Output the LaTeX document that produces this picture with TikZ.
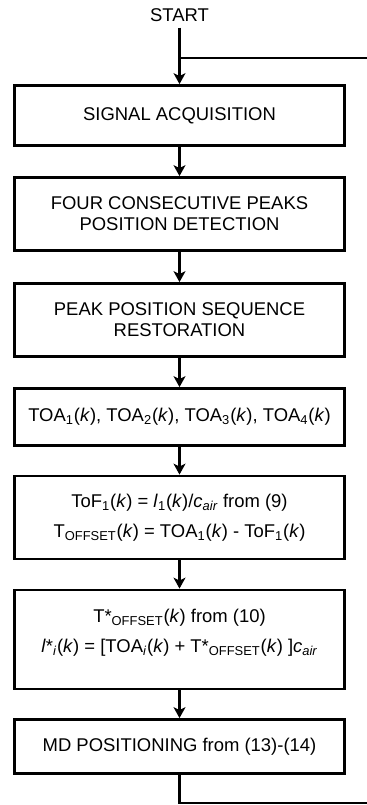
\documentclass[tikz,border=0pt]{standalone}
\usepackage{fontspec}
\setmainfont{Liberation Sans}
\usetikzlibrary{arrows.meta}
\newcommand{\lo}[1]{\textsubscript{#1}}
\begin{document}
\begin{tikzpicture}[x=0.02cm, y=-0.02cm,
    procbox/.style={draw, line width=1.6pt, minimum width=6.6cm, align=center, inner sep=0pt},
    flow/.style={line width=1.6pt, -{Stealth[length=0.22cm, width=0.24cm, inset=0.06cm]}},
    wire/.style={line width=1.6pt}]
            \useasboundingbox (0,0) rectangle (367,805);
            \tikzset{every node/.style={font=\fontsize{10.5}{12}\selectfont}}
            \node                                     (start) at (179.5,  15.0) {START};
            \node[procbox, minimum height=1.20cm]     (acq)   at (179.5, 115.5) {SIGNAL ACQUISITION};
            \node[procbox, minimum height=1.46cm]     (peaks) at (179.5, 214.0) {FOUR CONSECUTIVE PEAKS\\POSITION DETECTION};
            \node[procbox, minimum height=1.46cm]     (restore) at (179.5, 320.0) {PEAK POSITION SEQUENCE\\RESTORATION};
            \node[procbox, minimum height=1.14cm]     (toa)   at (179.5, 417.0) {TOA\lo{1}(\textit{k}), TOA\lo{2}(\textit{k}), TOA\lo{3}(\textit{k}), TOA\lo{4}(\textit{k})};
            \node[procbox, minimum height=1.66cm]     (tof)   at (179.5, 517.5)
                 {ToF\lo{1}(\textit{k}) = \textit{l}\lo{1}(\textit{k})/\textit{c\lo{air}} from (9)\\[5pt]
                  T\lo{OFFSET}(\textit{k}) = TOA\lo{1}(\textit{k}) - ToF\lo{1}(\textit{k})};
            \node[procbox, minimum height=1.98cm]     (offset) at (179.5, 639.5)
                 {T*\lo{OFFSET}(\textit{k}) from (10)\\[5pt]
                  \textit{l}*\lo{\textit{i}}(\textit{k}) = [TOA\lo{\textit{i}}(\textit{k}) + T*\lo{OFFSET}(\textit{k}) ]\textit{c\lo{air}}\\[-6pt]\strut};
            \node[procbox, minimum height=1.08cm]     (md)    at (179.5, 746.5) {MD POSITIONING from (13)-(14)};
            % feedback loop ends
            \coordinate (join)       at (179.5,  58.0);
            \coordinate (loopin)     at (367.0,  58.0);
            \coordinate (loopcorner) at (179.5, 803.0);
            \coordinate (loopout)    at (367.0, 803.0);
            \draw[flow] (start)   -- (acq);
            \draw[wire] (loopin)  -- (join);
            \draw[flow] (acq)     -- (peaks);
            \draw[flow] (peaks)   -- (restore);
            \draw[flow] (restore) -- (toa);
            \draw[flow] (toa)     -- (tof);
            \draw[flow] (tof)     -- (offset);
            \draw[flow] (offset)  -- (md);
            \draw[wire] (md)      -- (loopcorner) -- (loopout);
\end{tikzpicture}
\end{document}
